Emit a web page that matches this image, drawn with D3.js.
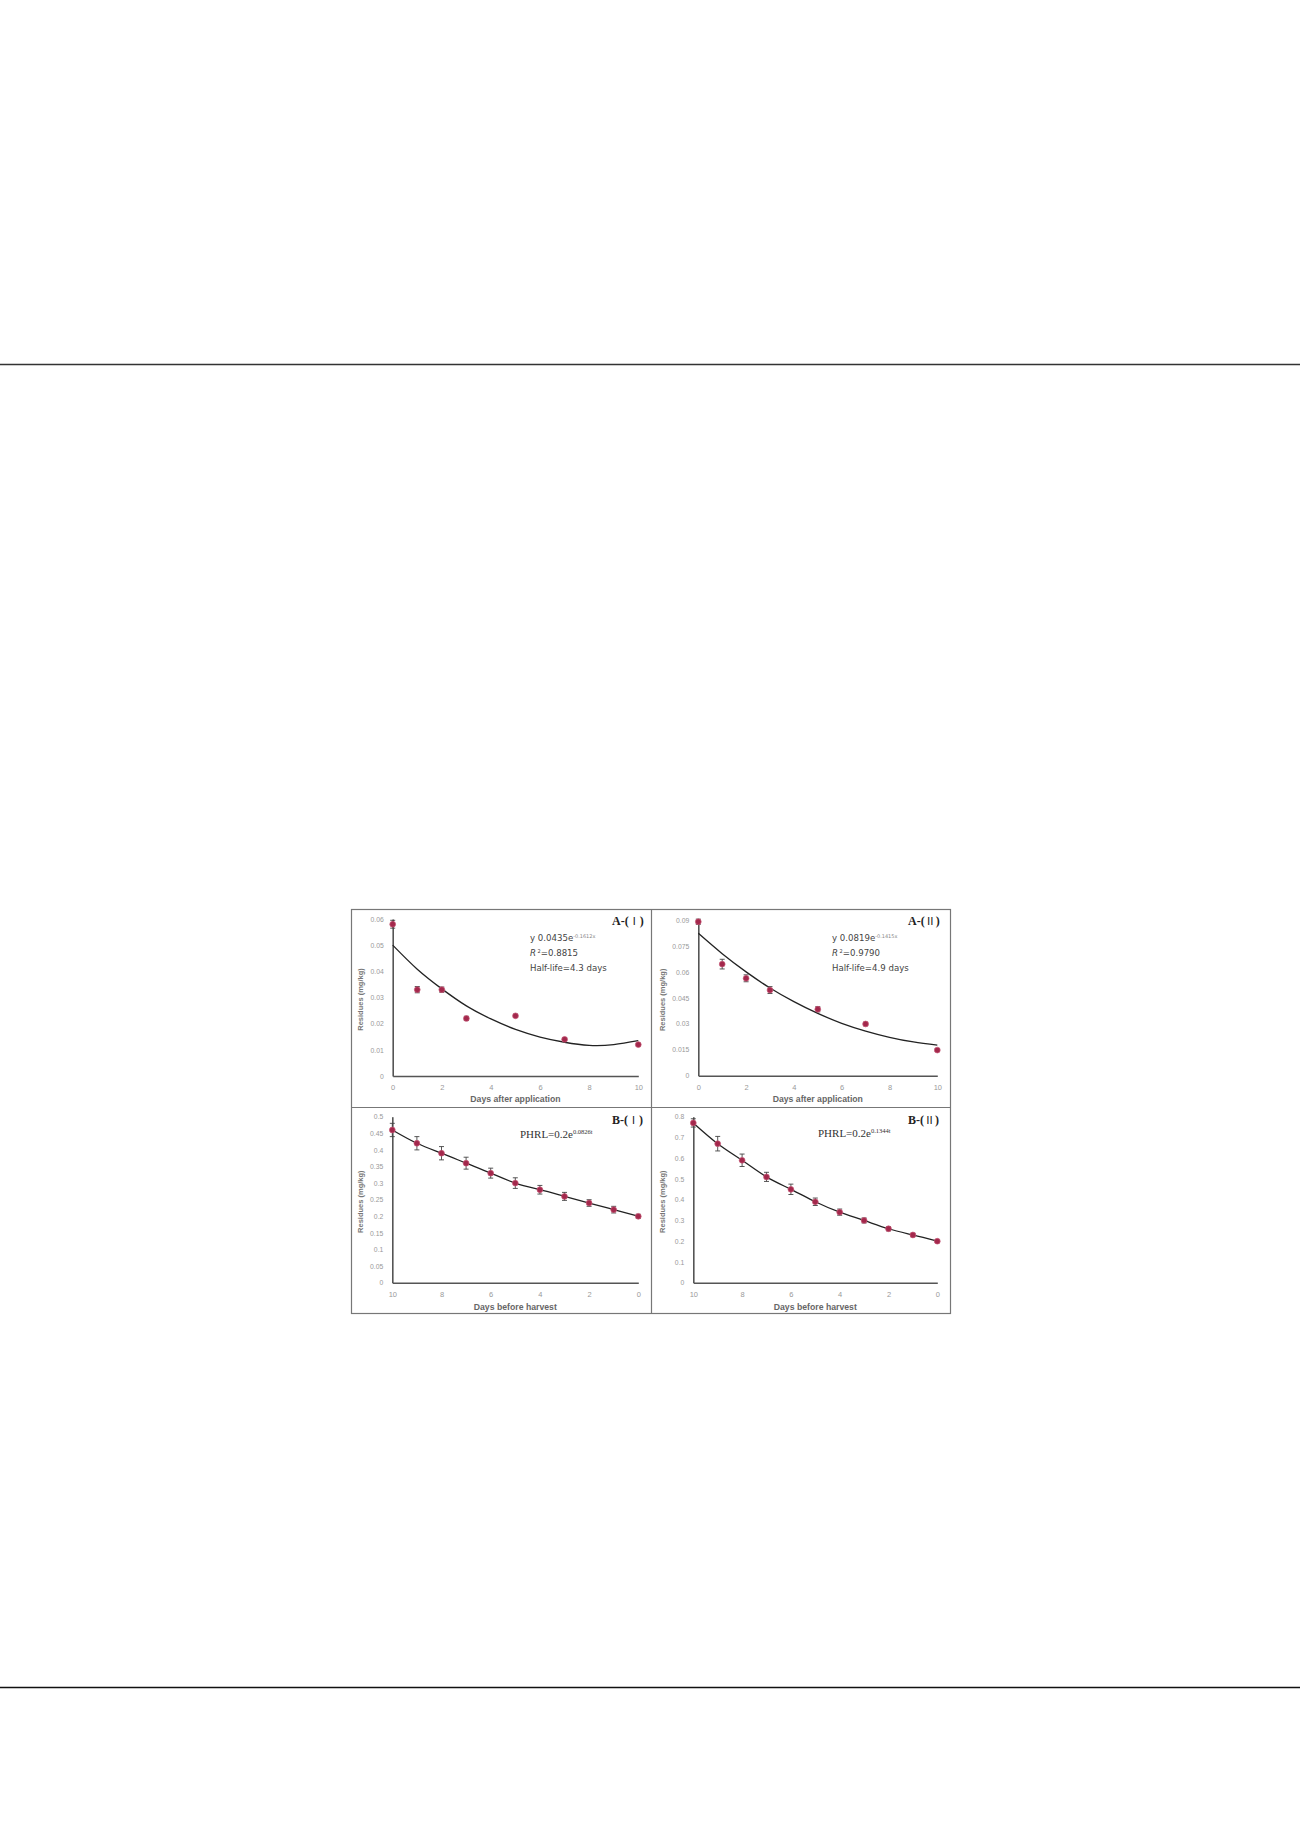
<!DOCTYPE html>
<html><head><meta charset="utf-8">
<script src="https://cdn.jsdelivr.net/npm/d3@7/dist/d3.min.js"></script>
<style>html,body{margin:0;padding:0;background:#fff;}svg{display:block;}</style>
</head><body>
<svg id="c" width="1300" height="1839"></svg>
<script>
// ---------- data ----------
const daysA = [0, 1, 2, 3, 5, 7, 10];
const curveDaysA = [0, 1, 2, 3, 4, 5, 6, 7, 8, 9, 10];
const a1Values = [0.058, 0.033, 0.033, 0.022, 0.023, 0.014, 0.012];
const a1Errors = [0.0015, 0.0012, 0.001, 0.0008, 0.0006, 0.0006, 0.0005];
const a1Curve = [0.050, 0.0408, 0.0333, 0.0268, 0.0218, 0.0178, 0.0149, 0.0129, 0.0117, 0.0120, 0.0135];
const a1Ticks = [0, 0.01, 0.02, 0.03, 0.04, 0.05, 0.06];

const a2Values = [0.089, 0.0645, 0.0563, 0.0495, 0.0384, 0.0299, 0.0148];
const a2Errors = [0.0015, 0.0028, 0.002, 0.002, 0.0015, 0.001, 0.0008];
const a2Curve = [0.0823, 0.0705, 0.0600, 0.0507, 0.0428, 0.0360, 0.0303, 0.0258, 0.0222, 0.0195, 0.0177];
const a2Ticks = [0, 0.015, 0.03, 0.045, 0.06, 0.075, 0.09];

const daysB = [10, 9, 8, 7, 6, 5, 4, 3, 2, 1, 0];
const b1Values = [0.46, 0.42, 0.39, 0.36, 0.33, 0.30, 0.28, 0.26, 0.24, 0.22, 0.20];
const b1Errors = [0.02, 0.02, 0.02, 0.018, 0.015, 0.016, 0.013, 0.012, 0.01, 0.01, 0.006];
const b1Ticks = [0, 0.05, 0.1, 0.15, 0.2, 0.25, 0.3, 0.35, 0.4, 0.45, 0.5];

const b2Values = [0.77, 0.67, 0.59, 0.51, 0.45, 0.39, 0.34, 0.30, 0.26, 0.23, 0.20];
const b2Errors = [0.02, 0.035, 0.03, 0.022, 0.025, 0.018, 0.015, 0.012, 0.01, 0.008, 0.006];
const b2Ticks = [0, 0.1, 0.2, 0.3, 0.4, 0.5, 0.6, 0.7, 0.8];

const xTicksA = [0, 2, 4, 6, 8, 10];
const xTicksB = [10, 8, 6, 4, 2, 0];

const panels = [
  {pre:"A-(", num:"Ⅰ", days:daysA, vals:a1Values, errs:a1Errors, cDays:curveDaysA, curve:a1Curve, yTicks:a1Ticks, xTicks:xTicksA, xDom:[0,10], xTitle:"Days after application",
   x0:392.7, x1:638.3, y0:1076, y1:919, ann:{type:"fit", eq:"0.0435e", sup:"-0.1612x", r2:"=0.8815", hl:"Half-life=4.3 days", x:530, y:941}, lab:{x:612, y:925}, yTitleX:360, tickY:1089, titleY:1102},
  {pre:"A-(", num:"Ⅱ", days:daysA, vals:a2Values, errs:a2Errors, cDays:curveDaysA, curve:a2Curve, yTicks:a2Ticks, xTicks:xTicksA, xDom:[0,10], xTitle:"Days after application",
   x0:698.3, x1:937.3, y0:1075.7, y1:920, ann:{type:"fit", eq:"0.0819e", sup:"-0.1415x", r2:"=0.9790", hl:"Half-life=4.9 days", x:832, y:941}, lab:{x:908, y:925}, yTitleX:662, tickY:1089, titleY:1102},
  {pre:"B-(", num:"Ⅰ", days:daysB, vals:b1Values, errs:b1Errors, cDays:daysB, curve:b1Values, yTicks:b1Ticks, xTicks:xTicksB, xDom:[10,0], xTitle:"Days before harvest",
   x0:392.3, x1:638.3, y0:1282.7, y1:1116.7, ann:{type:"phr", eq:"PHRL=0.2e", sup:"0.0826t", x:520, y:1138}, lab:{x:612, y:1124}, yTitleX:360, tickY:1296, titleY:1310},
  {pre:"B-(", num:"Ⅱ", days:daysB, vals:b2Values, errs:b2Errors, cDays:daysB, curve:b2Values, yTicks:b2Ticks, xTicks:xTicksB, xDom:[10,0], xTitle:"Days before harvest",
   x0:693.3, x1:937.3, y0:1282.7, y1:1116.7, ann:{type:"phr", eq:"PHRL=0.2e", sup:"0.1344t", x:818, y:1137}, lab:{x:908, y:1124}, yTitleX:662, tickY:1296, titleY:1310}
];

const svg = d3.select("#c");

// page rules
svg.append("line").attr("x1",0).attr("x2",1300).attr("y1",364.5).attr("y2",364.5).attr("stroke","#333").attr("stroke-width",1.6);
svg.append("line").attr("x1",0).attr("x2",1300).attr("y1",1687.5).attr("y2",1687.5).attr("stroke","#111").attr("stroke-width",1.6);

// frame
const frame = svg.append("g").attr("stroke","#777").attr("fill","none").attr("stroke-width",1.2);
frame.append("rect").attr("x",351.5).attr("y",909.5).attr("width",599).attr("height",404);
frame.append("line").attr("x1",651.5).attr("x2",651.5).attr("y1",909.5).attr("y2",1313.5);
frame.append("line").attr("x1",351.5).attr("x2",950.5).attr("y1",1107.5).attr("y2",1107.5);

panels.forEach(p => {
  const x = d3.scaleLinear().domain(p.xDom).range([p.x0, p.x1]);
  const yMax = p.yTicks[p.yTicks.length-1];
  const y = d3.scaleLinear().domain([0, yMax]).range([p.y0, p.y1]);
  const g = svg.append("g");

  // y axis
  const ya = g.append("g").attr("transform",`translate(${p.x0},0)`)
    .call(d3.axisLeft(y).tickValues(p.yTicks).tickSize(0).tickPadding(9).tickFormat(d => d3.format("~g")(d)));
  ya.select(".domain").attr("stroke","#555").attr("stroke-width",1.6);
  ya.selectAll("text").attr("fill","#999").attr("font-size","6.8px").attr("font-family","Liberation Sans, Arial, sans-serif");

  // x axis
  const xa = g.append("g").attr("transform",`translate(0,${p.y0})`)
    .call(d3.axisBottom(x).tickValues(p.xTicks).tickSize(0).tickPadding(0).tickFormat(d3.format("d")));
  xa.select(".domain").attr("stroke","#555").attr("stroke-width",1.6);
  xa.selectAll("text").attr("fill","#999").attr("font-size","7.5px").attr("font-family","Liberation Sans, Arial, sans-serif")
    .attr("y", p.tickY - p.y0 - 4).attr("dy","0.71em");

  // axis titles
  g.append("text").attr("x",(p.x0+p.x1)/2).attr("y",p.titleY).attr("text-anchor","middle")
    .attr("font-family","Liberation Sans, Arial, sans-serif").attr("font-weight","bold").attr("font-size","8.7px").attr("fill","#666").text(p.xTitle);
  const yc = (p.y0 + p.y1)/2 + 2;
  g.append("text").attr("transform",`translate(${p.yTitleX},${yc}) rotate(-90)`).attr("text-anchor","middle").attr("dy","0.35em")
    .attr("font-family","Liberation Sans, Arial, sans-serif").attr("font-weight","bold").attr("font-size","7.5px").attr("fill","#777").text("Residues (mg/kg)");

  // fitted curve
  const cpts = p.cDays.map((d,i)=>[x(d), y(p.curve[i])]).sort((a,b)=>a[0]-b[0]);
  g.append("path").attr("d", d3.line().curve(d3.curveNatural)(cpts))
    .attr("fill","none").attr("stroke","#222").attr("stroke-width",1.3);

  // error bars
  const eb = g.append("g").attr("stroke","#444").attr("stroke-width",0.9);
  p.days.forEach((d,i)=>{
    const cx = x(d), top = y(p.vals[i]+p.errs[i]), bot = y(p.vals[i]-p.errs[i]);
    eb.append("line").attr("x1",cx).attr("x2",cx).attr("y1",top).attr("y2",bot);
    eb.append("line").attr("x1",cx-2.5).attr("x2",cx+2.5).attr("y1",top).attr("y2",top);
    eb.append("line").attr("x1",cx-2.5).attr("x2",cx+2.5).attr("y1",bot).attr("y2",bot);
  });
  // markers
  g.append("g").selectAll("circle").data(p.days).join("circle")
    .attr("cx",d=>x(d)).attr("cy",(d,i)=>y(p.vals[i])).attr("r",2.9)
    .attr("fill","#a3284c").attr("stroke","#c85a78").attr("stroke-width",0.7);

  // panel label
  const lt = g.append("text").attr("x",p.lab.x).attr("y",p.lab.y)
    .attr("font-family","Liberation Serif, Times New Roman, serif").attr("font-weight","bold").attr("font-size","12px").attr("fill","#222");
  lt.append("tspan").text(p.pre);
  lt.append("tspan").attr("font-family","Noto Sans CJK SC, sans-serif").attr("font-weight","normal").attr("font-size","11px").text(p.num);
  lt.append("tspan").text(")");

  // annotations
  if (p.ann.type === "fit") {
    const f = "DejaVu Sans, sans-serif";
    const t1 = g.append("text").attr("x",p.ann.x).attr("y",p.ann.y).attr("font-family",f).attr("font-size","8.6px").attr("fill","#444");
    t1.append("tspan").text("y  " + p.ann.eq);
    t1.append("tspan").attr("dy",-3.5).attr("font-size","5px").attr("fill","#888").text(p.ann.sup);
    const t2 = g.append("text").attr("x",p.ann.x).attr("y",p.ann.y+15).attr("font-family",f).attr("font-size","8.6px").attr("fill","#444");
    t2.append("tspan").attr("font-style","italic").text("R");
    t2.append("tspan").attr("dy",-3.5).attr("font-size","5px").text(" 2");
    t2.append("tspan").attr("dy",3.5).text(p.ann.r2);
    g.append("text").attr("x",p.ann.x).attr("y",p.ann.y+30).attr("font-family",f).attr("font-size","8.6px").attr("fill","#444").text(p.ann.hl);
  } else {
    const f = "Liberation Serif, Times New Roman, serif";
    const t = g.append("text").attr("x",p.ann.x).attr("y",p.ann.y).attr("font-family",f).attr("font-size","11px").attr("fill","#333");
    t.append("tspan").text(p.ann.eq);
    t.append("tspan").attr("dy",-4.5).attr("font-size","6.5px").text(p.ann.sup);
  }
});
</script>
</body></html>
